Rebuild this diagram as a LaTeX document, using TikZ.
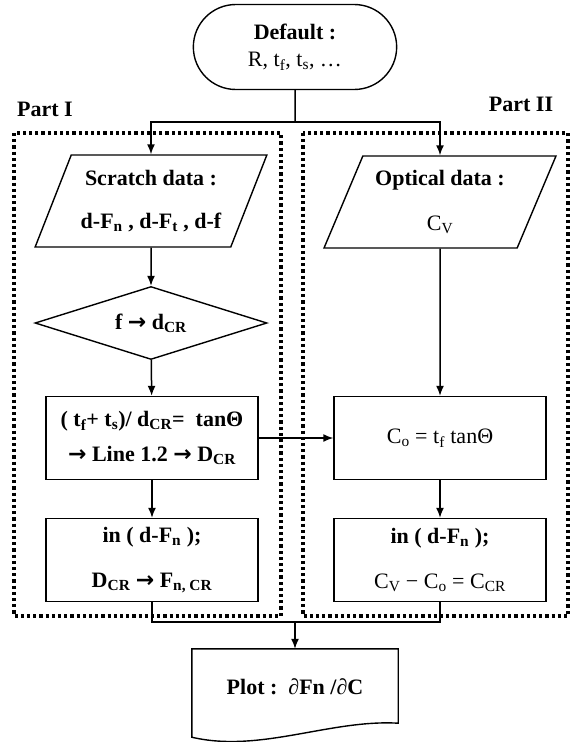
\documentclass[tikz,border=0pt]{standalone}
\usepackage{fontspec}
\setmainfont{Liberation Serif}
\newfontfamily\arrowfont{DejaVu Sans}
\usetikzlibrary{arrows}
\usetikzlibrary{arrows.meta}
\usetikzlibrary{shapes}

\newcommand{\sub}[1]{\textsubscript{#1}}
\newcommand{\goes}{{\arrowfont\bfseries →}}

\tikzset{
  every node/.style={font=\fontsize{22}{27}\selectfont\bfseries, align=center},
  box/.style={draw, line width=1.4pt},
  terminal/.style={box, rounded rectangle, minimum width=210pt, minimum height=85pt},
  datain/.style={box, trapezium, trapezium left angle=64, trapezium right angle=116,
    trapezium stretches=true, minimum width=232pt, minimum height=92pt},
  decision/.style={box, diamond, aspect=3.2, minimum width=232pt, minimum height=73pt},
  process/.style={box, rectangle, minimum width=212pt, minimum height=83pt},
  flow/.style={line width=1.5pt, -{Latex[length=10pt, width=8pt]}},
  link/.style={line width=1.5pt},
  part/.style={line width=3.2pt, dash pattern=on 3.2pt off 3pt}
}

\begin{document}
\begin{tikzpicture}[x=1pt, y=-1pt]
		\useasboundingbox (0,0) rectangle (574,742);
		% dotted frames
		\begin{scope}[part]
			\draw (14,133) rectangle (281,616);
			\draw (303,133) rectangle (568,616);
		\end{scope}
		\node (part1) at (45,109) {Part I};
		\node (part2) at (521,104) {Part II};

		\node[terminal] (default) at (295,47) {Default :\\[0pt] \mdseries R, t\sub{f}, t\sub{s}, \dots};
		\coordinate (split) at (295,122);

		% Part I
		\node[datain] (scratch) at (151,201) {Scratch data :\\[16pt] d-F\sub{n} , d-F\sub{t} , d-f};
		\node[decision] (ratio) at (151,323) {f \goes\ d\sub{CR}};
		\node[process] (angle) at (152,438) {( t\sub{f}+ t\sub{s})/ d\sub{CR}=\ \ tanΘ\\[8pt] \goes\ Line 1.2 \goes\ D\sub{CR}};
		\node[process] (force) at (152,560) {in ( d-F\sub{n} );\\[18pt] D\sub{CR} \goes\ F\sub{n, CR}};

		% Part II
		\node[datain] (optical) at (440,202) {Optical data :\\[18pt] \mdseries C\sub{V}};
		\node[process] (offset) at (440,438) {\mdseries C\sub{o} = t\sub{f} tanΘ};
		\node[process] (critical) at (440,560) {in ( d-F\sub{n} );\\[18pt] \mdseries C\sub{V} − C\sub{o} = C\sub{CR}};

		% result
		\node (plot) at (295,687) [minimum width=206pt, minimum height=76pt] {Plot :\ \ ∂Fn /∂C};
		\draw[box] (plot.north west) -- (plot.north east) -- ([yshift=2pt]plot.south east)
			.. controls +(-68,-4) and +(68,16) .. ([yshift=-12pt]plot.south west) -- cycle;
		\coordinate (join) at (295,622);

		\draw[link] (default) -- (split);
		\draw[flow] (split) -| (scratch);
		\draw[flow] (split) -| (optical);
		\draw[flow] (scratch) -- (ratio);
		\draw[flow] (ratio) -- (angle);
		\draw[flow] (angle) -- (force);
		\draw[flow] (angle) -- (offset);
		\draw[flow] (optical) -- (offset);
		\draw[flow] (offset) -- (critical);
		\draw[link] (force) |- (join);
		\draw[link] (critical) |- (join);
		\draw[flow] (join) -- (plot);
	\end{tikzpicture}
\end{document}
